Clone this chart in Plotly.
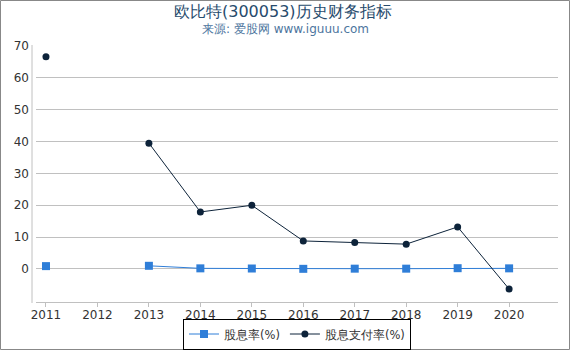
import plotly.graph_objects as go

years = [2011, 2012, 2013, 2014, 2015, 2016, 2017, 2018, 2019, 2020]
dividend_yield = [0.9, None, 1.0, 0.2, 0.15, 0.05, 0.1, 0.1, 0.25, 0.2]
payout_ratio = [66.6, None, 39.5, 17.9, 20.0, 8.8, 8.3, 7.8, 13.2, -6.3]
ytick_vals = [0, 10, 20, 30, 40, 50, 60, 70]

W, H = 570, 350
ML, MR, MT, MB = 36, 12, 45, 48
PW, PH = W - ML - MR, H - MT - MB


def py(px):
    return (H - MB - px) / PH


def pxx(px):
    return (px - ML) / PW


fig = go.Figure()
fig.add_trace(go.Scatter(
    x=years, y=dividend_yield, name="股息率(%)", mode="lines+markers",
    line=dict(color="#2f7ed8", width=1), connectgaps=False,
    marker=dict(symbol="square", size=8, color="#2f7ed8"),
))
fig.add_trace(go.Scatter(
    x=years, y=payout_ratio, name="股息支付率(%)", mode="lines+markers",
    line=dict(color="#0d233a", width=1), connectgaps=False,
    marker=dict(symbol="circle", size=7, color="#0d233a"),
))

font_family = "DejaVu Sans"
fig.update_layout(
    width=W, height=H,
    margin=dict(l=ML, r=MR, t=MT, b=MB, autoexpand=False),
    paper_bgcolor="white", plot_bgcolor="white",
    font=dict(family=font_family, size=12, color="#333333"),
    showlegend=True,
    legend=dict(
        orientation="h", x=0.5, xanchor="center", y=py(349.5), yanchor="bottom",
        bordercolor="#000000", borderwidth=1, font=dict(size=11.5, color="#333333"),
        itemwidth=30, tracegroupgap=0,
    ),
    xaxis=dict(
        range=[2010.806, 2020.95], tickmode="array", tickvals=years,
        ticktext=[str(y) for y in years], showgrid=False, zeroline=False,
        showline=True, linecolor="#c0c0c0", linewidth=1, automargin=False,
        ticks="outside", ticklen=4, tickcolor="#c0c0c0", ticklabelstandoff=-2,
        tickfont=dict(size=12, color="#333333"),
    ),
    yaxis=dict(
        range=[-10.36, 70.3], tickmode="array", tickvals=ytick_vals,
        showgrid=True, gridcolor="#c0c0c0", gridwidth=1, zeroline=False,
        showline=False, ticks="", ticklabelstandoff=6, automargin=False,
        tickfont=dict(size=12, color="#333333"),
    ),
)

# title and subtitle
fig.add_annotation(text="欧比特(300053)历史财务指标", xref="paper", yref="paper",
                   x=pxx(283), y=py(11), showarrow=False,
                   font=dict(size=16, color="#274b6d", family=font_family),
                   xanchor="center", yanchor="middle")
fig.add_annotation(text="来源: 爱股网 www.iguuu.com", xref="paper", yref="paper",
                   x=pxx(285), y=py(29), showarrow=False,
                   font=dict(size=12, color="#4d759e", family=font_family),
                   xanchor="center", yanchor="middle")

# offset y axis line
fig.add_shape(type="line", xref="paper", yref="paper",
              x0=pxx(32), x1=pxx(32), y0=py(303), y1=py(45),
              line=dict(color="#c0c0c0", width=1))
# outer frame
fig.add_shape(type="rect", xref="paper", yref="paper",
              x0=pxx(0.5), x1=pxx(W - 0.5), y0=py(H - 0.5), y1=py(0.5),
              line=dict(color="#888888", width=1), fillcolor="rgba(0,0,0,0)")

fig.write_html("out.html")
